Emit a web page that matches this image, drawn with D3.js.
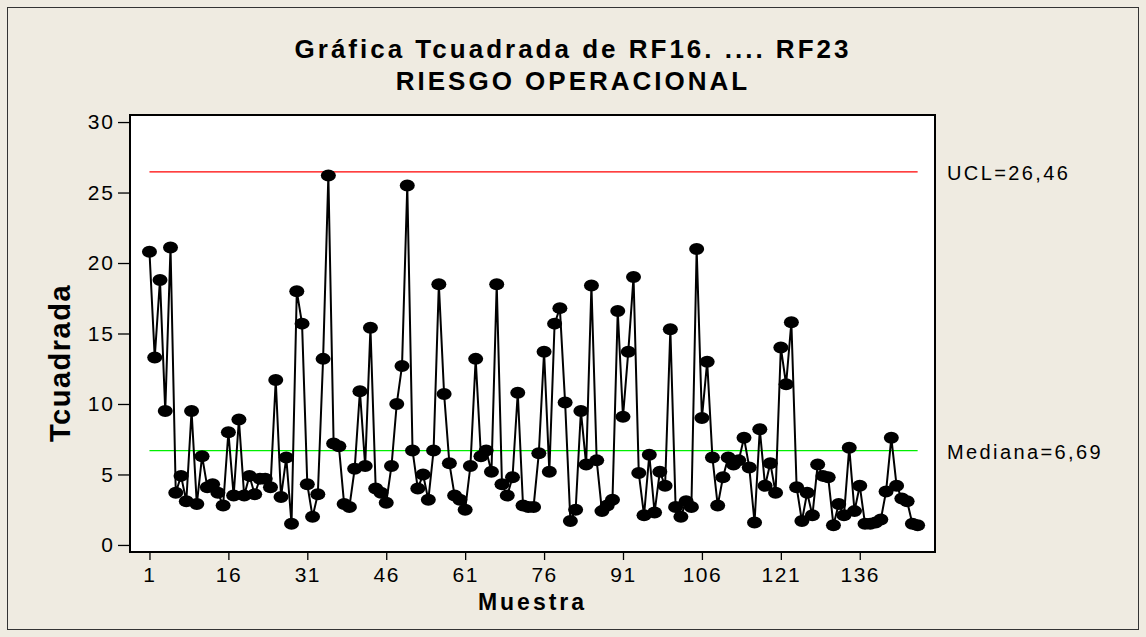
<!DOCTYPE html>
<html>
<head>
<meta charset="utf-8">
<script src="https://cdn.jsdelivr.net/npm/d3@7"></script>
<style>
  body { margin: 0; background: #efebe1; }
  svg text { font-family: "Liberation Sans", Arial, sans-serif; fill: #000; }
</style>
</head>
<body>
<div id="chart"></div>
<script>
// T-squared values per sample
var tValues = [
  20.8, 13.3, 18.8, 9.5, 21.1, 3.7, 4.9, 3.1, 9.5, 2.9,
  6.3, 4.1, 4.3, 3.7, 2.8, 8.0, 3.5, 8.9, 3.5, 4.9,
  3.6, 4.7, 4.7, 4.1, 11.7, 3.4, 6.2, 1.5, 18.0, 15.7,
  4.3, 2.0, 3.6, 13.2, 26.2, 7.2, 7.0, 2.9, 2.7, 5.4,
  10.9, 5.6, 15.4, 4.0, 3.7, 3.0, 5.6, 10.0, 12.7, 25.5,
  6.7, 4.0, 5.0, 3.2, 6.7, 18.5, 10.7, 5.8, 3.5, 3.2,
  2.5, 5.6, 13.2, 6.3, 6.7, 5.2, 18.5, 4.3, 3.5, 4.8,
  10.8, 2.8, 2.7, 2.7, 6.5, 13.7, 5.2, 15.7, 16.8, 10.1,
  1.7, 2.5, 9.5, 5.7, 18.4, 6.0, 2.4, 2.8, 3.2, 16.6,
  9.1, 13.7, 19.0, 5.1, 2.1, 6.4, 2.3, 5.2, 4.2, 15.3,
  2.7, 2.0, 3.1, 2.7, 21.0, 9.0, 13.0, 6.2, 2.8, 4.8,
  6.2, 5.7, 6.0, 7.6, 5.5, 1.6, 8.2, 4.2, 5.8, 3.7,
  14.0, 11.4, 15.8, 4.1, 1.7, 3.7, 2.1, 5.7, 4.9, 4.8,
  1.4, 2.9, 2.1, 6.9, 2.4, 4.2, 1.5, 1.5, 1.6, 1.8,
  3.8, 7.6, 4.2, 3.3, 3.1, 1.5, 1.4
];
var samples = tValues.map(function(d, i) { return i + 1; });
var xTicks = [1, 16, 31, 46, 61, 76, 91, 106, 121, 136];
var yTicks = [0, 5, 10, 15, 20, 25, 30];
var ucl = 26.46;
var mediana = 6.69;
var uclLabel = "UCL=26,46";
var medianaLabel = "Mediana=6,69";
var titleLines = ["Gráfica Tcuadrada de RF16. .... RF23", "RIESGO OPERACIONAL"];

var W = 1146, H = 637;
var plotLeft = 130, plotRight = 935, plotTop = 115, plotBottom = 552;

var svg = d3.select("#chart").append("svg")
  .attr("width", W)
  .attr("height", H);

svg.append("rect")
  .attr("x", 0).attr("y", 0)
  .attr("width", W).attr("height", H)
  .attr("fill", "#efebe1");

// outer frame of the graph window
svg.append("rect")
  .attr("x", 7.5).attr("y", 7.5)
  .attr("width", W - 15).attr("height", H - 15)
  .attr("fill", "none")
  .attr("stroke", "#333")
  .attr("stroke-width", 1);

var xScale = d3.scaleLinear().domain([-2.7, 150.3]).range([plotLeft, plotRight]);
var yScale = d3.scaleLinear().domain([-0.5, 30.5]).range([plotBottom, plotTop]);

svg.append("rect")
  .attr("x", plotLeft).attr("y", plotTop)
  .attr("width", plotRight - plotLeft).attr("height", plotBottom - plotTop)
  .attr("fill", "#fff");

// limit lines
svg.append("line")
  .attr("x1", xScale(1)).attr("x2", xScale(samples.length))
  .attr("y1", yScale(ucl)).attr("y2", yScale(ucl))
  .attr("stroke", "#ff0000").attr("stroke-width", 1.3);

svg.append("line")
  .attr("x1", xScale(1)).attr("x2", xScale(samples.length))
  .attr("y1", yScale(mediana)).attr("y2", yScale(mediana))
  .attr("stroke", "#00ee00").attr("stroke-width", 1.3);

var line = d3.line()
  .x(function(d, i) { return xScale(samples[i]); })
  .y(function(d) { return yScale(d); });

svg.append("path")
  .datum(tValues)
  .attr("d", line)
  .attr("fill", "none")
  .attr("stroke", "#000")
  .attr("stroke-width", 2);

svg.selectAll("ellipse.pt")
  .data(tValues)
  .enter().append("ellipse")
  .attr("class", "pt")
  .attr("cx", function(d, i) { return xScale(samples[i]); })
  .attr("cy", function(d) { return yScale(d); })
  .attr("rx", 7.5)
  .attr("ry", 6)
  .attr("fill", "#000");

svg.append("rect")
  .attr("x", plotLeft).attr("y", plotTop)
  .attr("width", plotRight - plotLeft).attr("height", plotBottom - plotTop)
  .attr("fill", "none")
  .attr("stroke", "#000")
  .attr("stroke-width", 2);

// axes
var yAxis = d3.axisLeft(yScale).tickValues(yTicks).tickSize(12).tickPadding(3);
var gy = svg.append("g")
  .attr("transform", "translate(" + plotLeft + ",0)")
  .call(yAxis);
gy.select(".domain").remove();
gy.selectAll(".tick line").attr("stroke", "#000").attr("stroke-width", 1.3);
gy.selectAll(".tick text")
  .style("font-size", "21px")
  .style("letter-spacing", "2px");

var xAxis = d3.axisBottom(xScale).tickValues(xTicks).tickSize(8).tickPadding(7);
var gx = svg.append("g")
  .attr("transform", "translate(0," + plotBottom + ")")
  .call(xAxis);
gx.select(".domain").remove();
gx.selectAll(".tick line").attr("stroke", "#000").attr("stroke-width", 1.3);
gx.selectAll(".tick text")
  .style("font-size", "21px")
  .style("letter-spacing", "1.5px");

// titles
svg.selectAll("text.title")
  .data(titleLines)
  .enter().append("text")
  .attr("class", "title")
  .attr("x", W / 2)
  .attr("y", function(d, i) { return 58 + i * 32; })
  .attr("text-anchor", "middle")
  .style("font-size", "26px")
  .style("font-weight", "bold")
  .style("letter-spacing", "3px")
  .text(function(d) { return d; });

svg.append("text")
  .attr("x", (plotLeft + plotRight) / 2)
  .attr("y", 610)
  .attr("text-anchor", "middle")
  .style("font-size", "23px")
  .style("font-weight", "bold")
  .style("letter-spacing", "3px")
  .text("Muestra");

svg.append("text")
  .attr("transform", "translate(70,363) rotate(-90)")
  .attr("text-anchor", "middle")
  .style("font-size", "29px")
  .style("font-weight", "bold")
  .style("letter-spacing", "1.5px")
  .text("Tcuadrada");

// limit labels
svg.append("text")
  .attr("x", 947).attr("y", yScale(ucl) + 8)
  .style("font-size", "20px")
  .style("letter-spacing", "2.4px")
  .text(uclLabel);

svg.append("text")
  .attr("x", 947).attr("y", yScale(mediana) + 8)
  .style("font-size", "20px")
  .style("letter-spacing", "2.4px")
  .text(medianaLabel);
</script>
</body>
</html>
